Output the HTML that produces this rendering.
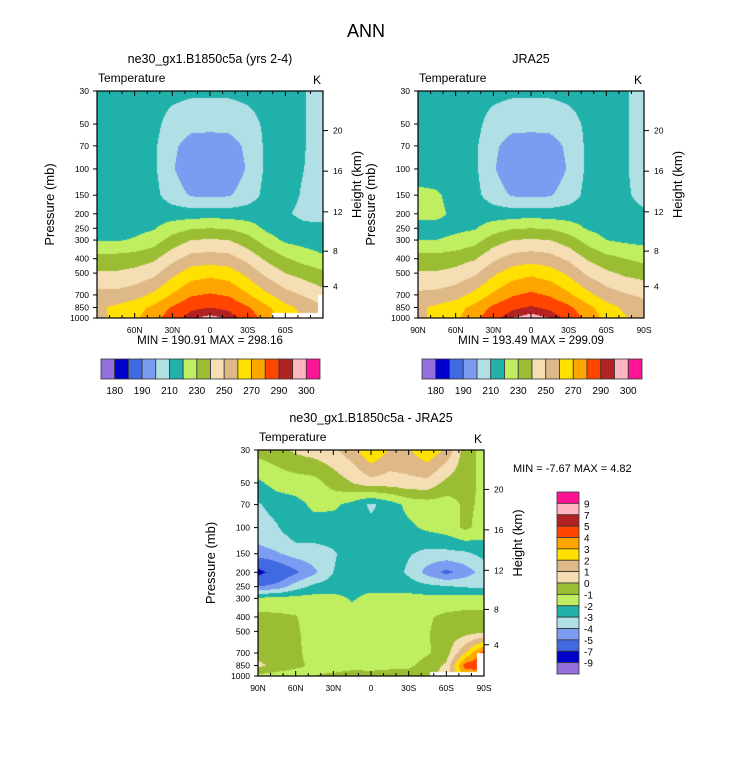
<!DOCTYPE html>
<html><head><meta charset="utf-8"><style>
body{margin:0;background:#fff;width:733px;height:772px;position:relative;overflow:hidden;font-family:"Liberation Sans",sans-serif}
canvas{position:absolute}
svg{position:absolute;left:0;top:0}
</style></head><body>
<canvas id="c1" style="left:97px;top:91px" width="226" height="227"></canvas>
<canvas id="c2" style="left:418px;top:91px" width="226" height="227"></canvas>
<canvas id="c3" style="left:258px;top:450px" width="226" height="226"></canvas>
<svg id="ov" width="733" height="772"></svg>
<script>
const lats=[90,75,60,45,30,15,0,-15,-30,-45,-60,-75,-90];
const pressures=[30,50,70,100,150,200,250,300,400,500,700,850,1000];
const modelT=[
[214,214,214,214,213,212,212,212,213,214,213,210.5,205],
[215,215,215,213,206,203,203,203,206,212,213,210.5,205],
[215,215,215,212,202,196,195,196,202,212,213,210.5,205],
[215,215,215,212,201,193,192,193,201,212,213,210,205],
[216,216,216,213,205,199,198,199,205,213,213,209,206],
[216,216,216,216,215,215,216,215,215,215,211,208,207],
[216,216,217,219,225,229,230,229,225,218,214,212,212],
[219,219,221,225,234,240,241,240,234,225,218,216,214],
[234,234,235,238,247,254,255,254,247,238,231,226,222],
[241,241,243,247,257,265,267,265,257,247,240,236,232],
[253,253,256,262,271,279,281,279,271,262,254,249,244],
[258,262,266,272,281,288,290,288,281,272,263,257,251],
[256,263,268,276,286,294,297,294,286,276,266,259,255]];
const jraT=[
[214,214,214,214,213,212,212,212,213,214,213,211,206],
[215,215,215,213,206,203,203,203,206,212,213,211,206],
[215,215,215,212,202,196,195,196,202,212,213,211,206],
[216,216,215,212,201,193,192,193,201,212,213,211,206],
[222,221,217,213,205,199,198,199,205,213,213,211,208],
[222,222,218,216,215,215,216,215,215,215,213,212,211],
[217,217,218,219,225,229,230,229,225,219,216,215,215],
[220,220,222,226,235,240,241,240,235,226,220,218,217],
[234,234,236,239,248,254,256,254,248,239,233,230,227],
[241,241,243,248,258,265,268,265,258,248,242,238,236],
[252,253,256,263,272,279,282,279,272,263,255,251,248],
[258,262,266,273,282,288,291,288,282,273,264,258,254],
[257,263,268,277,287,295,298,295,287,277,267,261,256]];
const diffT=[
[-0.6,-0.4,0.2,0.5,0.8,1.6,3.0,1.9,1.9,2.8,1.8,-0.5,-1.4],
[-2.2,-1.6,-1.5,-1.4,-0.6,0.0,0.6,0.5,0.7,0.7,-0.3,-0.7,-1.2],
[-3.1,-2.6,-2.3,-1.8,-1.8,-2.3,-3.2,-2.5,-1.7,-1.5,-1.5,-0.8,-1.2],
[-3.5,-3.1,-2.2,-2.4,-2.5,-2.6,-2.7,-2.5,-2.2,-1.8,-1.5,-0.8,-1.4],
[-4.3,-4.1,-3.6,-3.4,-3.1,-2.6,-2.5,-2.6,-2.9,-3.3,-3.3,-3.2,-2.7],
[-7.6,-6.2,-5.2,-4.2,-3.0,-2.5,-2.3,-2.4,-3.2,-4.4,-5.3,-4.5,-3.6],
[-5.0,-4.6,-3.5,-2.7,-2.5,-2.3,-2.3,-2.4,-2.5,-2.7,-2.9,-3.1,-3.2],
[-1.8,-1.7,-1.6,-1.6,-1.7,-2.1,-1.7,-1.6,-1.6,-1.7,-1.6,-1.5,-1.5],
[-0.7,-0.8,-0.95,-1.4,-1.6,-1.6,-1.6,-1.5,-1.3,-1.1,-0.8,-0.7,-0.7],
[-0.6,-0.7,-0.9,-1.3,-1.6,-1.6,-1.6,-1.6,-1.5,-1.05,-0.7,-0.5,-0.3],
[-0.5,-0.6,-0.85,-1.3,-1.6,-1.6,-1.6,-1.6,-1.5,-1.1,-0.5,2.0,4.6],
[0.3,-0.4,-0.8,-1.2,-1.5,-1.4,-1.4,-1.3,-1.2,-0.6,0.2,4.5,4.8],
[-1.3,-1.4,-1.5,-1.0,-0.8,-0.5,-0.6,-0.5,-0.5,-0.4,0.5,3,3]];
const levelsT=[180,185,190,200,210,220,230,240,250,260,270,280,290,295,300];
const levelsD=[-9,-7,-5,-4,-3,-2,-1,0,1,2,3,4,5,7,9];
const labelsT=["180","190","210","230","250","270","290","300"];
const labelsD=["9","7","5","4","3","2","1","0","-1","-2","-3","-4","-5","-7","-9"];
const presTicks=[30,50,70,100,150,200,250,300,400,500,700,850,1000];
const heightTicks=[4,8,12,16,20];
const heightPres=[616,356,194,103.5,55.3];
const latTicks=[90,60,30,0,-30,-60,-90];
const latLabels=["90N","60N","30N","0","30S","60S","90S"];
const colors=["#9370DB","#0000CD","#4169E1","#7B9CF0","#B0E0E6","#20B2AA","#BFEE60","#9ABD34","#F5DEB3","#DEB887","#FFE000","#FFA500","#FF4500","#B22222","#FFB6C1","#FF1493"];

const LP=Math.log(1000/30);
function yP(p,top,h){return top+Math.log(p/30)/LP*h;}
function xL(lat,left,w){return left+(90-lat)/180*w;}
function hex(c){return [parseInt(c.substr(1,2),16),parseInt(c.substr(3,2),16),parseInt(c.substr(5,2),16)];}
const rgb=colors.map(hex);
function sample(field,lat,p){
  let fi=(90-lat)/15; let i0=Math.min(Math.floor(fi),11); let tx=fi-i0;
  let lp=Math.log(p); let j0=0;
  for(let j=0;j<pressures.length-1;j++){if(p>=pressures[j]) j0=j;}
  j0=Math.min(j0,11);
  let ty=(lp-Math.log(pressures[j0]))/(Math.log(pressures[j0+1])-Math.log(pressures[j0]));
  ty=Math.max(0,Math.min(1,ty));
  const a=field[j0][i0],b=field[j0][i0+1],c=field[j0+1][i0],d=field[j0+1][i0+1];
  return (a*(1-tx)+b*tx)*(1-ty)+(c*(1-tx)+d*tx)*ty;
}
function drawField(id,field,levels,masks){
  const cv=document.getElementById(id),ctx=cv.getContext('2d');
  const w=cv.width,h=cv.height,img=ctx.createImageData(w,h);
  for(let y=0;y<h;y++){
    const p=30*Math.exp((y+0.5)/h*LP);
    for(let x=0;x<w;x++){
      const lat=90-(x+0.5)/w*180;
      const v=sample(field,lat,p);
      let k=0; while(k<levels.length&&v>=levels[k]) k++;
      const c=rgb[k],o=(y*w+x)*4;
      img.data[o]=c[0];img.data[o+1]=c[1];img.data[o+2]=c[2];img.data[o+3]=255;
    }
  }
  ctx.putImageData(img,0,0);
  ctx.fillStyle='#fff';
  (masks||[]).forEach(m=>ctx.fillRect(m[0],m[1],m[2],m[3]));
}
drawField('c1',modelT,levelsT,[[175,222,51,5],[221,204,5,23]]);
drawField('c2',jraT,levelsT,[]);
drawField('c3',diffT,levelsD,[[172,222,54,4],[219,203,7,23]]);

const ov=document.getElementById('ov');const NS='http://www.w3.org/2000/svg';
function el(tag,attrs,txt){const e=document.createElementNS(NS,tag);for(const k in attrs)e.setAttribute(k,attrs[k]);if(txt!==undefined)e.textContent=txt;ov.appendChild(e);return e;}
function txt(x,y,s,size,anchor,name,extra){const e=el('text',Object.assign({x:x,y:y,'font-size':size,'text-anchor':anchor||'middle','font-family':'Liberation Sans, sans-serif',fill:'#000'},extra||{}),s);return e;}

txt(366,37,'ANN',18,'middle','main-title');

function panel(left,top,w,h,title,showEnd,pfx){
  txt(left+w/2,top-28,title,12.5,'middle',pfx+'-title');
  txt(left+1,top-9,'Temperature',12,'start',pfx+'-variable-label');
  txt(left+w-2,top-7,'K',12,'end',pfx+'-units-label');
  const fr=el('rect',{x:left,y:top,width:w,height:h,fill:'none',stroke:'#000','stroke-width':1.2});
  
  presTicks.forEach(p=>{const y=yP(p,top,h);
    const l=el('line',{x1:left-4,x2:left,y1:y,y2:y,stroke:'#000'});
    txt(left-8,y+3,String(p),8.5,'end',pfx+'-pressure-tick-label');});
  heightTicks.forEach((z,i)=>{const y=yP(heightPres[i],top,h);
    const l=el('line',{x1:left+w,x2:left+w+5,y1:y,y2:y,stroke:'#000'});
    txt(left+w+10,y+3,String(z),8.5,'start',pfx+'-height-tick-label');});
  for(let lat=90;lat>=-90;lat-=10){const x=xL(lat,left,w);const major=lat%30===0;
    const l1=el('line',{x1:x,x2:x,y1:top,y2:top+(major?5:3),stroke:'#000'});
    const l2=el('line',{x1:x,x2:x,y1:top+h,y2:top+h-(major?5:3),stroke:'#000'});}
  latTicks.forEach((lat,i)=>{if(!showEnd&&(i===0||i===latTicks.length-1))return;
    txt(xL(lat,left,w),top+h+15,latLabels[i],8.5,'middle',pfx+'-lat-tick-label');});
  txt(0,0,'Pressure (mb)',13,'middle',pfx+'-y-axis-title',{transform:'translate('+(left-43)+','+(top+h/2)+') rotate(-90)'});
  txt(0,0,'Height (km)',13,'middle',pfx+'-y2-axis-title',{transform:'translate('+(left+w+38)+','+(top+h/2-20)+') rotate(-90)'});
}
panel(97,91,226,227,'ne30_gx1.B1850c5a (yrs 2-4)',false,'model');
panel(418,91,226,227,'JRA25',true,'jra');
panel(258,450,226,226,'ne30_gx1.B1850c5a - JRA25',true,'diff');
txt(210,344,'MIN = 190.91  MAX = 298.16',11.5,'middle','model-min-max');
txt(531,344,'MIN = 193.49  MAX = 299.09',11.5,'middle','jra-min-max');
txt(513,472,'MIN =  -7.67  MAX =   4.82',11,'start','diff-min-max');

function hbar(left,top,w,h,pfx){
  const bw=w/colors.length;
  colors.forEach((c,i)=>{const r=el('rect',{x:left+i*bw,y:top,width:bw,height:h,fill:c,stroke:'#333','stroke-width':0.8});});
  labelsT.forEach((s,i)=>{txt(left+(2*i+1)*bw,top+h+15,s,10,'middle',pfx+'-colorbar-label');});
}
hbar(101,359,219,20,'model');
hbar(422,359,220,20,'jra');
(function(){const left=557,top=492,w=22,h=182,bh=h/colors.length;
  colors.slice().reverse().forEach((c,i)=>{const r=el('rect',{x:left,y:top+i*bh,width:w,height:bh,fill:c,stroke:'#333','stroke-width':0.8});});
  labelsD.forEach((s,i)=>{txt(left+w+5,top+(i+1)*bh+4,s,10,'start','diff-colorbar-label');});
})();
</script>
</body></html>
